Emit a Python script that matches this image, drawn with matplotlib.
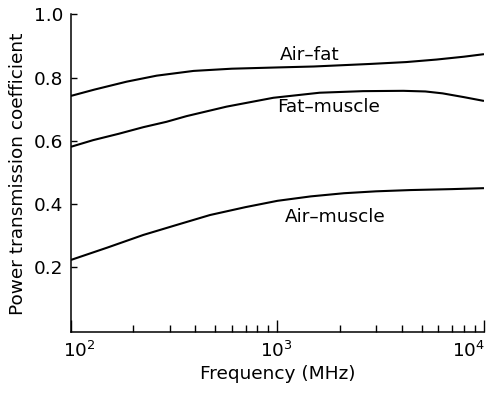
import matplotlib
matplotlib.use("Agg")
import matplotlib.pyplot as plt
import matplotlib.transforms as mtransforms
from matplotlib.ticker import LogLocator, NullFormatter, FixedLocator

plt.rcParams['font.family'] = ['DejaVu Sans']
plt.rcParams['mathtext.fontset'] = 'dejavusans'
plt.rcParams['mathtext.default'] = 'regular'

# Data (frequency in MHz, power transmission coefficient)
air_fat_f = [100, 130, 186, 260, 392, 600, 1000, 1500, 2800, 4200, 5900, 8000, 10000]
air_fat_t = [0.742, 0.762, 0.787, 0.806, 0.821, 0.828, 0.832, 0.835, 0.843, 0.849, 0.857, 0.866, 0.874]

fat_muscle_f = [100, 128, 170, 224, 290, 363, 567, 955, 1600, 2600, 4070, 5200, 6300, 8000, 10000]
fat_muscle_t = [0.581, 0.602, 0.622, 0.643, 0.660, 0.678, 0.708, 0.736, 0.752, 0.757, 0.758, 0.756, 0.750, 0.738, 0.726]

air_muscle_f = [100, 150, 224, 330, 471, 700, 1000, 1450, 2100, 3000, 4400, 7000, 10000]
air_muscle_t = [0.223, 0.262, 0.302, 0.335, 0.365, 0.390, 0.410, 0.424, 0.434, 0.440, 0.444, 0.447, 0.450]

labels = ["Air\u2013fat", "Fat\u2013muscle", "Air\u2013muscle"]
label_f = [1435, 1758, 1897]
label_t = [0.871, 0.707, 0.36]

y_ticks = [0.2, 0.4, 0.6, 0.8, 1.0]
y_ticklabels = ["0.2", "0.4", "0.6", "0.8", "1.0"]
x_ticks = [100, 1000, 10000]
x_ticklabels = [r'$10^{2}$', r'$10^{3}$', r'$10^{4}$']

FS = 13.3

fig = plt.figure(figsize=(4.87, 3.93), dpi=100)
ax = fig.add_axes([0.1458, 0.1545, 0.848, 0.809])

for f, t in [(air_fat_f, air_fat_t), (fat_muscle_f, fat_muscle_t), (air_muscle_f, air_muscle_t)]:
    ax.plot(f, t, color='black', lw=1.5, solid_capstyle='butt')

for lab, lf, lt in zip(labels, label_f, label_t):
    ax.text(lf, lt, lab, ha='center', va='center', fontsize=FS)

ax.set_xscale('log')
ax.set_xlim(100, 10000)
ax.set_ylim(-0.006, 1.0)
ax.set_yticks(y_ticks)
ax.set_yticklabels(y_ticklabels)
ax.xaxis.set_major_locator(FixedLocator(x_ticks))
ax.set_xticklabels(x_ticklabels)
ax.xaxis.set_minor_locator(LogLocator(base=10, subs=range(2, 10)))
ax.xaxis.set_minor_formatter(NullFormatter())

ax.spines['top'].set_visible(False)
ax.spines['right'].set_visible(False)
for s in ['left', 'bottom']:
    ax.spines[s].set_linewidth(1.1)

ax.tick_params(axis='y', direction='in', length=4.5, width=1.0, labelsize=FS, pad=5.5)
ax.tick_params(axis='x', which='major', direction='in', length=8.5, width=1.0, labelsize=FS, pad=6)
ax.tick_params(axis='x', which='minor', direction='in', length=5, width=1.0)

# shift outer x tick labels inward as in the reference
offsets_px = [8, -1, -15]
for lbl, dx in zip(ax.get_xticklabels(), offsets_px):
    lbl.set_transform(lbl.get_transform() + mtransforms.ScaledTranslation(dx / 100, 0, fig.dpi_scale_trans))

ax.set_xlabel("Frequency (MHz)", fontsize=FS, labelpad=3)
ax.set_ylabel("Power transmission coefficient", fontsize=FS, labelpad=5)

fig.savefig("out.png", dpi=100)
